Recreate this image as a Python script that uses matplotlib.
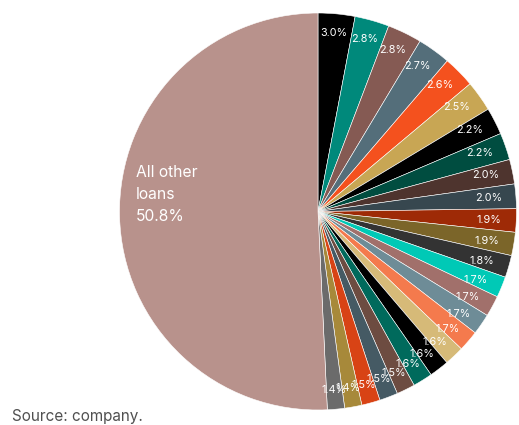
import matplotlib
matplotlib.use("Agg")
import numpy as np
import matplotlib.pyplot as plt

plt.rcParams['font.family'] = ['Inter', 'DejaVu Sans']

# Share of loan book by borrower (%), largest exposures first, remainder last
shares = [3.0, 2.8, 2.8, 2.7, 2.6, 2.5, 2.2, 2.2, 2.0, 2.0, 1.9, 1.9, 1.8,
          1.7, 1.7, 1.7, 1.7, 1.6, 1.6, 1.6, 1.5, 1.5, 1.5, 1.4, 1.4, 50.8]
other_label = "All other\nloans"

colors = ["#000000", "#00897b", "#855a53", "#546e7a", "#f4511e", "#c8a654",
          "#000000", "#004d40", "#4e342e", "#37474f", "#9e2a06", "#7b6529",
          "#333333", "#00c9b6", "#a1706b", "#6e8c97", "#f47a4d", "#d6ba78",
          "#000000", "#006a5c", "#6d4c41", "#455a64", "#d84315", "#a7893a",
          "#6b6b6b", "#b8928c"]

fig = plt.figure(figsize=(5.19, 4.25), dpi=100)
cx, cy, r = 318, 211.5, 198.5
ax = fig.add_axes([(cx - r) / 519, (425 - cy - r) / 425, 2 * r / 519, 2 * r / 425])

wedges, texts, autotexts = ax.pie(
    shares, colors=colors, startangle=90, counterclock=False,
    autopct=lambda p: f"{p:.1f}%", pctdistance=0.88,
    wedgeprops=dict(edgecolor="white", linewidth=0.4),
    textprops=dict(color="white", fontsize=7.8),
)
ax.set_xlim(-1, 1)
ax.set_ylim(-1, 1)
ax.set_aspect("equal")

# Percent labels sit on a slightly flattened ring inside the rim
for w, t in zip(wedges, autotexts):
    mid = np.deg2rad((w.theta1 + w.theta2) / 2)
    t.set_position((0.86 * np.cos(mid), 0.905 * np.sin(mid)))

# Remainder slice gets a larger, left-aligned caption
autotexts[-1].set_visible(False)
ax.text(-0.917, 0.232, f"{other_label}\n{shares[-1]:.1f}%", color="white",
        fontsize=11.25, ha="left", va="top", linespacing=1.55)

fig.text(12 / 519, 1 - 416 / 425, "Source: company.", color="#505050",
         fontsize=11, ha="left", va="center")

fig.savefig("out.png", dpi=100)
